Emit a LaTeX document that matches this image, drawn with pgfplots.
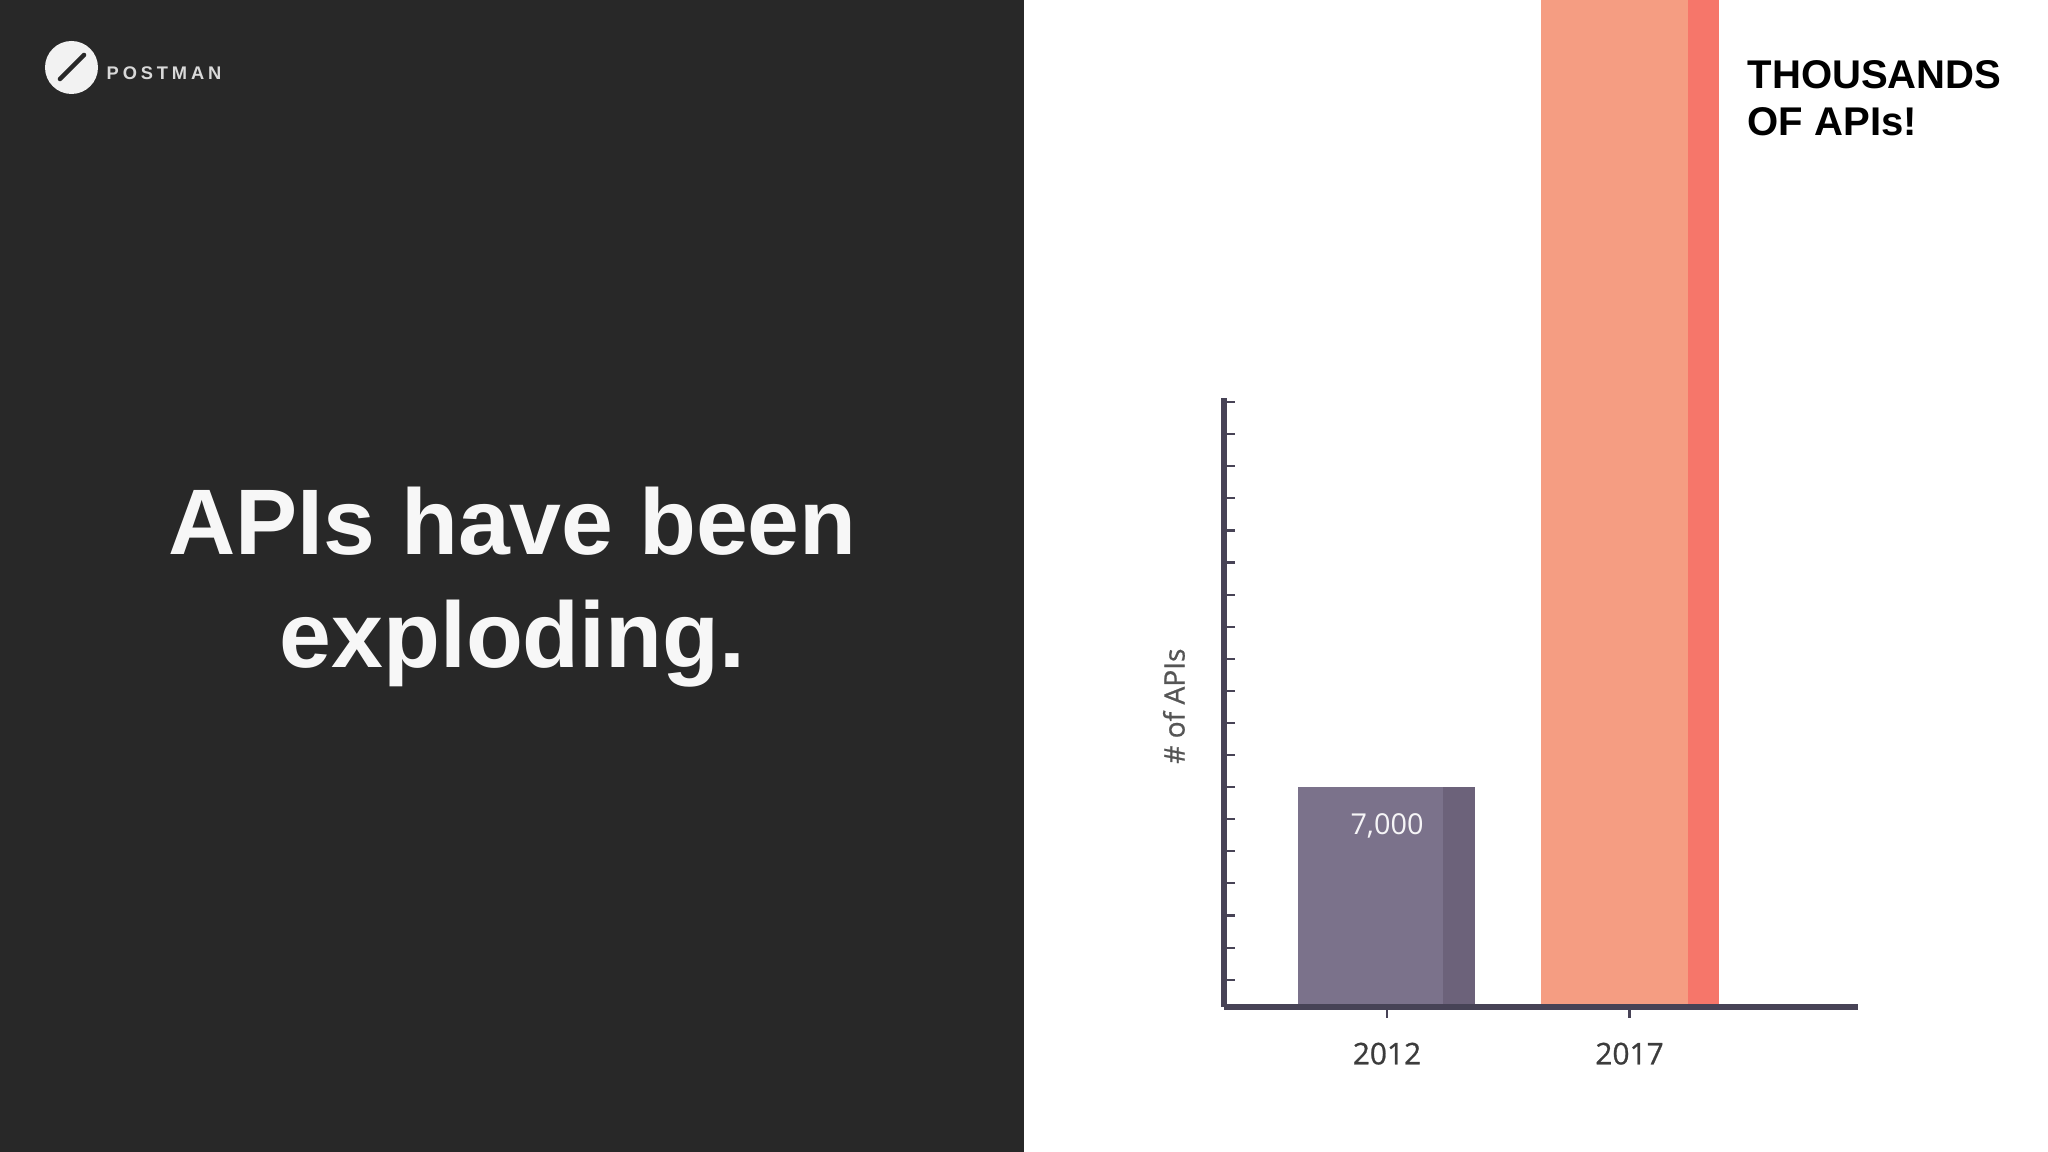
\documentclass[border=0pt]{standalone}
\usepackage{fontspec}
\setmainfont{Liberation Sans}
\newfontfamily\chartfont{Open Sans}
\newfontfamily\chartfontb{Open Sans}[FakeBold=0.8]
\usepackage{pgfplots}
\pgfplotsset{compat=1.18}
\definecolor{panel}{HTML}{282828}
\definecolor{axiscol}{HTML}{474356}
\definecolor{purpleMain}{HTML}{7B728B}
\definecolor{purpleDark}{HTML}{6C627A}
\definecolor{salmonMain}{HTML}{F59D82}
\definecolor{salmonDark}{HTML}{F6766A}
\definecolor{labelgray}{HTML}{3C3C3C}
\definecolor{ylabgray}{HTML}{555555}
\begin{document}
\begin{tikzpicture}
\useasboundingbox (0,0) rectangle (20.48cm,11.52cm);
\clip (0,0) rectangle (20.48cm,11.52cm);
\fill[white] (0,0) rectangle (20.48cm,11.52cm);
\fill[panel] (0,0) rectangle (10.24cm,11.52cm);
% logo
\fill[white!95!black] (0.715cm,10.845cm) circle (0.265cm);
\draw[panel, line width=1.3pt, line cap=round] (0.60cm,10.73cm) -- (0.84cm,10.97cm);
\node[anchor=base west, inner sep=0pt, text=white!85!black, font=\bfseries\fontsize{5.2}{6}\selectfont] at (1.06cm,10.72cm) {P\kern1.1pt O\kern1.1pt S\kern1.1pt T\kern1.1pt M\kern1.1pt A\kern1.1pt N};
% title
\node[anchor=base, inner sep=0pt, text=white!97!black, font=\bfseries\fontsize{26.5}{32}\selectfont] at (5.125cm,5.97cm) {APIs have been};
\node[anchor=base, inner sep=0pt, text=white!97!black, font=\bfseries\fontsize{26.5}{32}\selectfont] at (5.125cm,4.84cm) {exploding.};
% annotation
\node[anchor=base west, inner sep=0pt, font=\bfseries\fontsize{11.4}{13}\selectfont] at (17.47cm,10.63cm) {THOUSANDS};
\node[anchor=base west, inner sep=0pt, font=\bfseries\fontsize{11.4}{13}\selectfont] at (17.47cm,10.16cm) {OF APIs!};
\begin{axis}[
  at={(12.24cm,1.45cm)}, anchor=south west,
  scale only axis, width=6.34cm, height=6.09cm,
  xmin=-0.672, xmax=1.942, ymin=150, ymax=19128,
  axis x line=bottom, axis y line=left,
  axis line style={draw=axiscol, line width=1.5pt, -},
  every outer x axis line/.append style={-},
  every outer y axis line/.append style={-},
  clip=false, axis on top,
  scaled y ticks=false,
  xtick={0,1}, xticklabels={2012,2017},
  ytick={1000,2000,...,19000}, yticklabel=\empty,
  xtick align=outside, ytick align=inside,
  major tick length=0.11cm,
  tick style={draw=axiscol, line width=0.6pt},
  xticklabel style={font=\chartfontb\fontsize{8.5}{10}\selectfont, text=labelgray, anchor=north, inner sep=0pt, yshift=-0.24cm},
  ylabel={\# of APIs},
  every axis y label/.style={at={(axis description cs:-0.079,0.494)}, rotate=90, anchor=center, inner sep=0pt, font=\chartfontb\fontsize{8}{9}\selectfont, text=ylabgray},
]
\addplot[ybar, bar width=1.77cm, bar shift=0pt, fill=purpleDark, draw=none] coordinates {(0,7000)};
\addplot[ybar, bar width=1.45cm, bar shift=-0.16cm, fill=purpleMain, draw=none] coordinates {(0,7000)};
\addplot[ybar, bar width=1.78cm, bar shift=0pt, fill=salmonDark, draw=none] coordinates {(1,31600)};
\addplot[ybar, bar width=1.47cm, bar shift=-0.155cm, fill=salmonMain, draw=none] coordinates {(1,31600)};
\node[font=\chartfont\fontsize{8.2}{9}\selectfont, text=white!93!purpleMain, yshift=-0.39cm] at (axis cs:0,7000) {7,000};
\end{axis}
\end{tikzpicture}
\end{document}
